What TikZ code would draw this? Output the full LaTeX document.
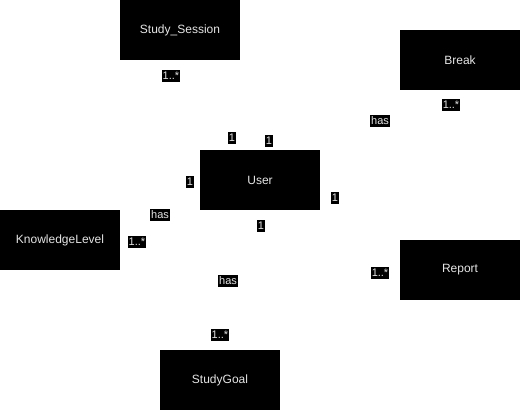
\documentclass[tikz,border=0pt]{standalone}
\usepackage{fontspec}
\setmainfont{Liberation Sans}
\tikzstyle{entity}=[fill=black, text=white!90!black, minimum width=120pt, minimum height=60pt, inner sep=0, font=\fontsize{12}{14}\selectfont]
\tikzstyle{mult}=[fill=black, text=white!90!black, inner xsep=1pt, inner ysep=1.8pt, font=\fontsize{11}{12}\selectfont]

\begin{document}
\begin{tikzpicture}[x=1pt, y=-1pt]
      \useasboundingbox (0, 0) rectangle (521, 411);

      \node[entity] (study_session) at (180, 30) {Study\_Session};
      \node[entity] (break) at (460, 60) {Break};
      \node[entity] (user) at (260, 180) {User};
      \node[entity] (knowledge) at (60, 240) {KnowledgeLevel};
      \node[entity] (report) at (460, 270) {Report};
      \node[entity] (goal) at (220, 380) {StudyGoal};

      % multiplicities and roles
      \node[mult] (m_session) at (171, 76) {1..*};
      \node[mult] (m_break) at (451, 105) {1..*};
      \node[mult] (has_break) at (380, 121) {has};
      \node[mult] (u_session) at (232, 138) {1};
      \node[mult] (u_break) at (269, 141) {1};
      \node[mult] (u_knowledge) at (190, 182) {1};
      \node[mult] (u_report) at (335, 198) {1};
      \node[mult] (u_goal) at (261, 226) {1};
      \node[mult] (has_knowledge) at (160, 215) {has};
      \node[mult] (m_knowledge) at (137, 242) {1..*};
      \node[mult] (has_goal) at (228, 281) {has};
      \node[mult] (m_report) at (380, 273) {1..*};
      \node[mult] (m_goal) at (220, 335) {1..*};
\end{tikzpicture}
\end{document}
